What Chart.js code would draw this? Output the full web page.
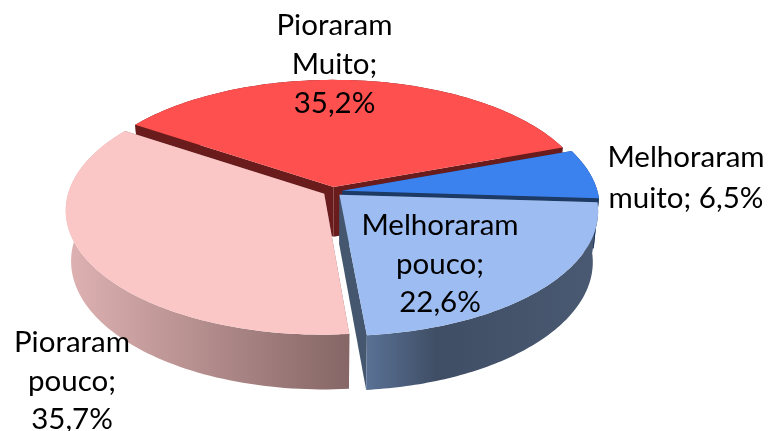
<!DOCTYPE html>
<html>
<head>
<meta charset="utf-8">
<style>
html,body{margin:0;padding:0;background:#fff;overflow:hidden}
#wrap{width:772px;height:431px;position:relative}
canvas{filter:blur(0.5px)}
</style>
<script src="https://cdn.jsdelivr.net/npm/chart.js@4/dist/chart.umd.min.js"></script>
</head>
<body>
<div id="wrap"><canvas id="c" width="772" height="431"></canvas></div>
<script>
const categories = ['Melhoraram muito', 'Melhoraram pouco', 'Pioraram pouco', 'Pioraram Muito'];
const values = [6.5, 22.6, 35.7, 35.2];
const topColors = ['#3c82ee', '#9cbcf2', '#fbc6c6', '#ff5050'];
const faceColors = ['#1c3a63', '#44576f', '#8a6a6a', '#6a1c1c'];
const explode = [8, 8, 8, 8];
const startRotation = 70.1;

// Screen geometry of the tilted pie
const view = {cx: 332.5, cy: 191.5, rx: 255.5, ry: 122, persp: 0.129, depth: 50, shrink: 0.02};
// Label anchors: index into categories, centre x, first baseline, line gap
const labelPlaces = [
  {i: 3, x: 334.5, y: 35, gap: 39, lines: v => ['Pioraram', 'Muito;', v]},
  {i: 0, x: 686, y: 167, gap: 41, lines: v => ['Melhoraram', 'muito; ' + v]},
  {i: 1, x: 440, y: 235, gap: 38.5, lines: v => ['Melhoraram', 'pouco;', v]},
  {i: 2, x: 72, y: 352, gap: 38.5, lines: v => ['Pioraram', 'pouco;', v]}
];
const drawOrder = [3, 0, 2, 1];

function project(u, v, z) {
  const s = 1 / (1 - view.persp * v);
  const k = 1 - view.shrink * z;
  return [view.cx + view.rx * u * s * k,
          view.cy + view.ry * v * s * k + view.depth * z * s];
}

function polygon(ctx, pts, fill) {
  ctx.beginPath();
  pts.forEach((p, n) => n ? ctx.lineTo(p[0], p[1]) : ctx.moveTo(p[0], p[1]));
  ctx.closePath();
  ctx.fillStyle = fill;
  ctx.fill();
}

function wallGradient(ctx, i) {
  if (i === 2) {
    const g = ctx.createLinearGradient(66, 0, 348, 0);
    g.addColorStop(0, '#dfb2b2');
    g.addColorStop(1, '#866666');
    return g;
  }
  if (i === 1) {
    const g = ctx.createLinearGradient(367, 0, 600, 0);
    g.addColorStop(0, '#5a7195');
    g.addColorStop(0.3, '#3f4e65');
    g.addColorStop(1, '#4a5a72');
    return g;
  }
  return faceColors[i];
}

const pie3d = {
  id: 'pie3d',
  beforeDatasetsDraw(chart) {
    const ctx = chart.ctx;
    const arcs = chart.getDatasetMeta(0).data;
    drawOrder.forEach(i => {
      const el = arcs[i];
      const R = el.outerRadius;
      const a0 = el.startAngle, a1 = el.endAngle, mid = (a0 + a1) / 2;
      const d = el.options.offset / R;
      const ox = d * Math.cos(mid), oy = d * Math.sin(mid);
      const rim = z => {
        const pts = [];
        for (let n = 0; n <= 90; n++) {
          const a = a0 + (a1 - a0) * n / 90;
          pts.push(project(ox + Math.cos(a), oy + Math.sin(a), z));
        }
        return pts;
      };
      const top = rim(0), bot = rim(1);
      const apexT = project(ox, oy, 0), apexB = project(ox, oy, 1);
      // radial faces
      polygon(ctx, [apexT, top[0], bot[0], apexB], faceColors[i]);
      polygon(ctx, [apexT, top[90], bot[90], apexB], faceColors[i]);
      // outer wall
      polygon(ctx, top.concat(bot.slice().reverse()), wallGradient(ctx, i));
      // top face
      polygon(ctx, [apexT].concat(top), el.options.backgroundColor);
    });
    return false;
  },
  afterDraw(chart) {
    const ctx = chart.ctx;
    ctx.save();
    ctx.fillStyle = '#000';
    ctx.font = '29.5px Lato';
    ctx.textAlign = 'center';
    ctx.textBaseline = 'alphabetic';
    labelPlaces.forEach(p => {
      const v = values[p.i].toFixed(1).replace('.', ',') + '%';
      p.lines(v).forEach((t, n) => ctx.fillText(t, p.x, p.y + n * p.gap));
    });
    ctx.restore();
  }
};

new Chart(document.getElementById('c'), {
  type: 'pie',
  data: {
    labels: categories,
    datasets: [{
      data: values,
      backgroundColor: topColors,
      borderWidth: 0,
      offset: explode
    }]
  },
  options: {
    responsive: false,
    animation: false,
    rotation: startRotation,
    layout: {padding: 0},
    plugins: {legend: {display: false}, tooltip: {enabled: false}}
  },
  plugins: [pie3d]
});
</script>
</body>
</html>
